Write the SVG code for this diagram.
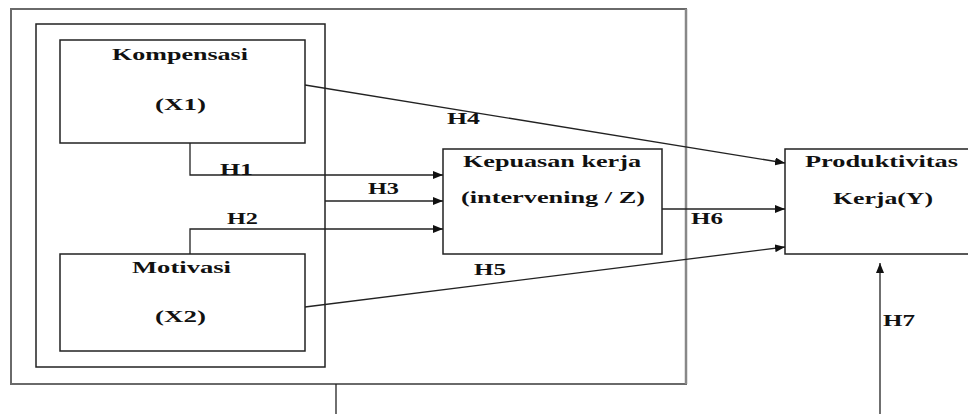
<svg xmlns="http://www.w3.org/2000/svg" width="968" height="414" viewBox="0 0 968 414">
<defs>
<marker id="arr" markerWidth="10" markerHeight="8" refX="10" refY="4" orient="auto" markerUnits="userSpaceOnUse">
<path d="M0,0 L10,4 L0,8 Z" fill="#111"/>
</marker>
<style>
.t{font-family:"Liberation Serif","DejaVu Serif",serif;font-weight:bold;font-size:16px;fill:#111}
.box{fill:none;stroke:#222;stroke-width:1.5}
.ln{fill:none;stroke:#222;stroke-width:1.3}
</style>
</defs>
<rect width="968" height="414" fill="#fff"/>
<g id="outer">
<path d="M11,384 L11,9 L686,9 L686,384 Z" fill="none" stroke="#6a6a6a" stroke-width="2"/>
<path d="M686,9 L686,384" stroke="#888" stroke-width="2.5"/>
</g>
<g id="inner">
<rect class="box" x="36" y="24" width="289" height="343"/>
</g>
<g id="kompensasi">
<rect class="box" x="60" y="40" width="245" height="103"/>
<text class="t" x="112" y="60" textLength="136" lengthAdjust="spacingAndGlyphs">Kompensasi</text>
<text class="t" x="155" y="110" textLength="51" lengthAdjust="spacingAndGlyphs">(X1)</text>
</g>
<g id="motivasi">
<rect class="box" x="60" y="254" width="245" height="97"/>
<text class="t" x="132" y="273" textLength="99" lengthAdjust="spacingAndGlyphs">Motivasi</text>
<text class="t" x="155" y="322" textLength="51" lengthAdjust="spacingAndGlyphs">(X2)</text>
</g>
<g id="kepuasan">
<rect class="box" x="443" y="149" width="219" height="105"/>
<text class="t" x="463" y="167" textLength="178" lengthAdjust="spacingAndGlyphs">Kepuasan kerja</text>
<text class="t" x="461" y="203" textLength="184" lengthAdjust="spacingAndGlyphs">(intervening / Z)</text>
</g>
<g id="produktivitas">
<rect class="box" x="785" y="149" width="200" height="105"/>
<text class="t" x="805" y="167" textLength="153" lengthAdjust="spacingAndGlyphs">Produktivitas</text>
<text class="t" x="833" y="204" textLength="100" lengthAdjust="spacingAndGlyphs">Kerja(Y)</text>
</g>
<g id="connectors">
<path class="ln" d="M190,143 L190,175 L443,175" marker-end="url(#arr)"/>
<path class="ln" d="M190,254 L190,229 L443,229" marker-end="url(#arr)"/>
<path class="ln" d="M325,201 L443,201" marker-end="url(#arr)"/>
<path class="ln" d="M305,85 L785,163" marker-end="url(#arr)"/>
<path class="ln" d="M305,307 L785,247" marker-end="url(#arr)"/>
<path class="ln" d="M662,209 L785,209" marker-end="url(#arr)"/>
<path class="ln" d="M880,414 L880,263" marker-end="url(#arr)"/>
<path class="ln" d="M336,384 L336,414"/>
</g>
<g id="labels">
<text class="t" x="220" y="175" textLength="33" lengthAdjust="spacingAndGlyphs">H1</text>
<text class="t" x="227" y="224" textLength="31" lengthAdjust="spacingAndGlyphs">H2</text>
<text class="t" x="368" y="194" textLength="31" lengthAdjust="spacingAndGlyphs">H3</text>
<text class="t" x="447" y="124" textLength="33" lengthAdjust="spacingAndGlyphs">H4</text>
<text class="t" x="474" y="275" textLength="32" lengthAdjust="spacingAndGlyphs">H5</text>
<text class="t" x="691" y="224" textLength="32" lengthAdjust="spacingAndGlyphs">H6</text>
<text class="t" x="883" y="326" textLength="32" lengthAdjust="spacingAndGlyphs">H7</text>
</g>
</svg>
